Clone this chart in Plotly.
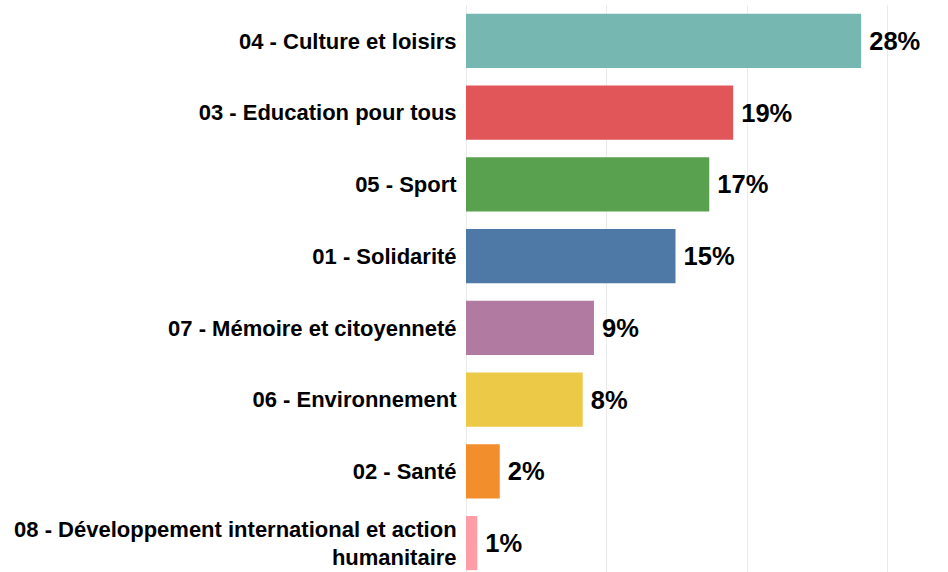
import plotly.graph_objects as go

categories = [
    "04 - Culture et loisirs",
    "03 - Education pour tous",
    "05 - Sport",
    "01 - Solidarité",
    "07 - Mémoire et citoyenneté",
    "06 - Environnement",
    "02 - Santé",
    "08 - Développement international et action<br>humanitaire",
]
values = [28.1, 19.0, 17.3, 14.9, 9.1, 8.3, 2.4, 0.8]
colors = ["#76B7B2", "#E15759", "#59A14F", "#4E79A7", "#B07AA1", "#EDC948", "#F28E2B", "#FF9DA7"]

FONT = "Liberation Sans, Arial, sans-serif"

fig = go.Figure(go.Bar(
    x=values,
    y=categories,
    orientation="h",
    marker=dict(color=colors, line=dict(width=0)),
    text=[f"\u2009{round(v):.0f}%" for v in values],
    textposition="outside",
    textfont=dict(size=25.5, color="#000000", family=FONT, weight="bold"),
    cliponaxis=False,
    hoverinfo="skip",
))

fig.update_layout(
    width=948, height=580,
    margin=dict(l=466, r=18, t=5, b=1),
    paper_bgcolor="white", plot_bgcolor="white",
    bargap=0.245,
    showlegend=False,
    font=dict(family=FONT),
    xaxis=dict(range=[0, 33], dtick=10, showticklabels=False, showgrid=True,
               gridcolor="#ebebeb", gridwidth=1, zeroline=True, zerolinecolor="#ebebeb",
               zerolinewidth=1, fixedrange=True),
    yaxis=dict(autorange="reversed", showgrid=False, ticks="outside", ticklen=4,
               tickcolor="rgba(0,0,0,0)", automargin=False,
               tickfont=dict(size=22, color="#000000", family=FONT, weight="bold"),
               fixedrange=True),
)

fig.write_html(
    "out.html",
    config={"displayModeBar": False},
    post_script="document.body.style.margin='0';document.body.style.overflow='hidden';",
)
